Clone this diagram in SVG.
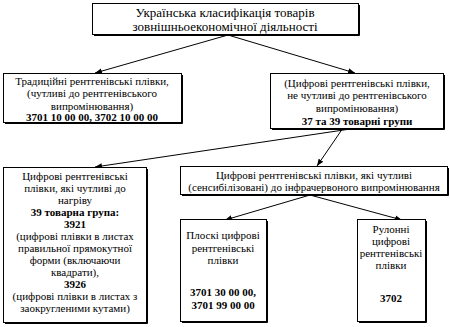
<svg xmlns="http://www.w3.org/2000/svg" width="450" height="327" viewBox="0 0 450 327">
<defs>
<style>
.box{fill:#fff;stroke:#000;stroke-width:1}
.sh{fill:none;stroke:#000;stroke-width:1}
text{font-family:'Liberation Serif','Times New Roman',Times,serif;font-size:11px;fill:#000;text-anchor:middle}
.t13{font-size:13px}
.b{font-weight:bold}
.c{stroke:#000;stroke-width:1;fill:none;marker-end:url(#ah)}
</style>
<marker id="ah" viewBox="0 0 10 10" refX="10" refY="5" markerWidth="7" markerHeight="7" markerUnits="userSpaceOnUse" orient="auto">
<path d="M0,1 L10,5 L0,9 z" fill="#000"/>
</marker>
</defs>
<rect width="450" height="327" fill="#fff"/>
<g id="connectors">
<line class="c" x1="228" y1="35" x2="95" y2="73"/>
<line class="c" x1="228" y1="35" x2="355" y2="73"/>
<line class="c" x1="357" y1="128" x2="95" y2="167"/>
<line class="c" x1="343" y1="128" x2="317" y2="166"/>
<line class="c" x1="310" y1="195" x2="225" y2="220"/>
<line class="c" x1="310" y1="195" x2="402" y2="220"/>
</g>
<g id="top">
<rect class="box" x="92.5" y="3.5" width="266" height="31"/>
<polyline class="sh" points="94,35.5 359.5,35.5 359.5,5"/>
<text class="t13" x="225" y="17">Українська класифікація товарів</text>
<text class="t13" x="225" y="31">зовнішньоекономічної діяльності</text>
</g>
<g id="traditional">
<rect class="box" x="3.5" y="73.5" width="178" height="49"/>
<polyline class="sh" points="5,123.5 182.5,123.5 182.5,75"/>
<text x="92" y="84.5">Традиційні рентгенівські плівки,</text>
<text x="92" y="97">(чутливі до рентгенівського</text>
<text x="92" y="109.5">випромінювання)</text>
<text class="b" x="92" y="121">3701 10 00 00, 3702 10 00 00</text>
</g>
<g id="digital">
<rect class="box" x="270.5" y="73.5" width="173" height="55"/>
<polyline class="sh" points="272,129.5 444.5,129.5 444.5,75"/>
<text x="357" y="86.5">(Цифрові рентгенівські плівки,</text>
<text x="357" y="99">не чутливі до рентгенівського</text>
<text x="357" y="111.5">випромінювання)</text>
<text class="b" x="357" y="125">37 та 39 товарні групи</text>
</g>
<g id="heat">
<rect class="box" x="3.5" y="167.5" width="143" height="155"/>
<polyline class="sh" points="5,323.5 147.5,323.5 147.5,169"/>
<text x="75" y="180">Цифрові рентгенівські</text>
<text x="75" y="192">плівки, які чутливі до</text>
<text x="75" y="204">нагріву</text>
<text class="b" x="75" y="216">39 товарна група:</text>
<text class="b" x="75" y="228">3921</text>
<text x="75" y="240">(цифрові плівки в листах</text>
<text x="75" y="252">правильної прямокутної</text>
<text x="75" y="264">форми (включаючи</text>
<text x="75" y="276">квадрати),</text>
<text class="b" x="75" y="288">3926</text>
<text x="75" y="300">(цифрові плівки в листах з</text>
<text x="75" y="312">заокругленими кутами)</text>
</g>
<g id="infrared">
<rect class="box" x="180.5" y="166.5" width="267" height="28"/>
<polyline class="sh" points="182,195.5 448.5,195.5 448.5,168"/>
<text x="314" y="179">Цифрові рентгенівські плівки, які чутливі</text>
<text x="314" y="191">(сенсибілізовані) до інфрачервоного випромінювання</text>
</g>
<g id="flat">
<rect class="box" x="180.5" y="219.5" width="86" height="102"/>
<polyline class="sh" points="182,322.5 267.5,322.5 267.5,221"/>
<text x="223" y="239">Плоскі цифрові</text>
<text x="223" y="251.5">рентгенівські</text>
<text x="223" y="264">плівки</text>
<text class="b" x="223" y="296">3701 30 00 00,</text>
<text class="b" x="223" y="308.5">3701 99 00 00</text>
</g>
<g id="roll">
<rect class="box" x="357.5" y="219.5" width="68" height="102"/>
<polyline class="sh" points="359,322.5 426.5,322.5 426.5,221"/>
<text x="391" y="233">Рулонні</text>
<text x="391" y="245">цифрові</text>
<text x="391" y="257">рентгенівські</text>
<text x="391" y="269">плівки</text>
<text class="b" x="391" y="302">3702</text>
</g>
</svg>
